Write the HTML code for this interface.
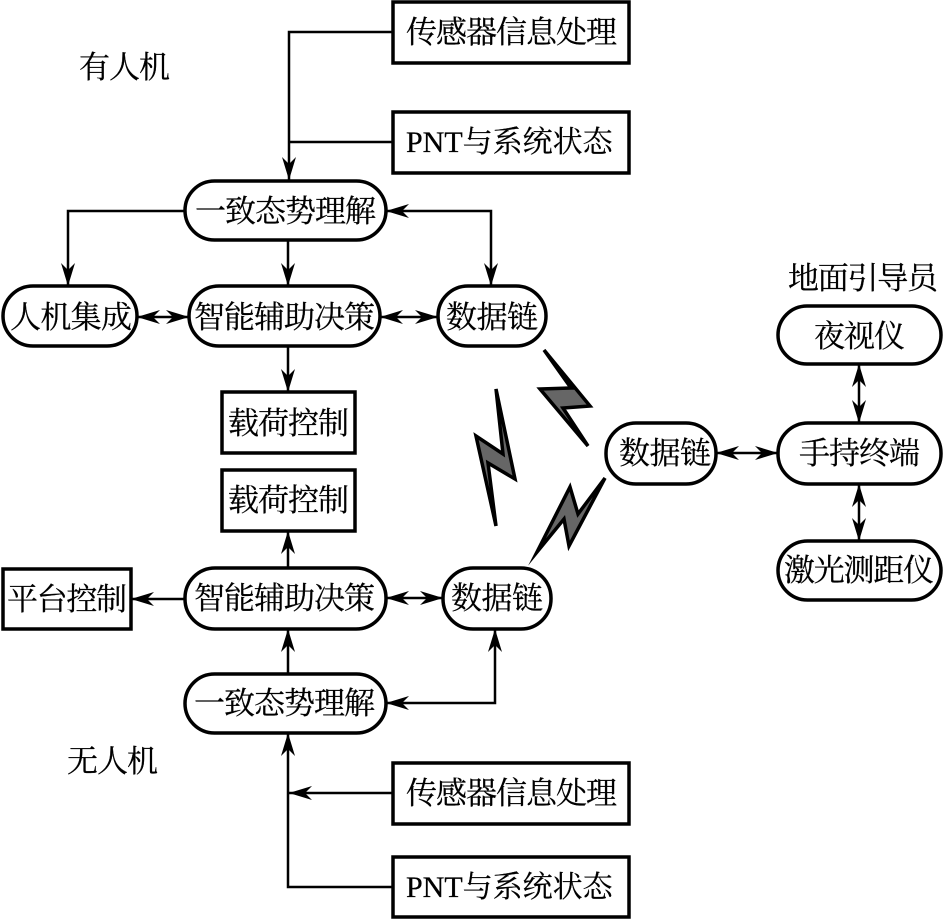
<!DOCTYPE html>
<html><head><meta charset="utf-8"><style>
html,body{margin:0;padding:0;background:#fff;width:943px;height:920px;overflow:hidden}
svg{display:block}
text{font-family:"Liberation Serif","Noto Serif CJK SC",serif;font-size:31px;fill:#000;stroke:#000;stroke-width:.25}
.b{fill:#fff;stroke:#000;stroke-width:3.5}
.l{fill:none;stroke:#000;stroke-width:2.5}
.z{fill:#666;stroke:#000;stroke-width:3.5;stroke-linejoin:miter;stroke-miterlimit:12}
</style></head><body>
<svg width="943" height="920" viewBox="0 0 943 920" xmlns="http://www.w3.org/2000/svg">
<defs>
<path id="a" d="M0 0L-23 -7L-16 0L-23 7Z" fill="#000"/>
</defs>
<!-- connectors -->
<path class="l" d="M393 32H289V180M393 142H289"/>
<path class="l" d="M185 211H68V286M288 240V286M386 211H491V286M288 346V392M137 317H189M380 317H438M859 364V423M716 453H778M859 484V541M288 531V568M131 599H185M386 598H443M288 674V629M386 703H495V629M393 887H288V733M393 793H289"/>
<use href="#a" transform="translate(289,180) rotate(90)"/>
<use href="#a" transform="translate(68,286) rotate(90)"/>
<use href="#a" transform="translate(288,286) rotate(90)"/>
<use href="#a" transform="translate(491,286) rotate(90)"/>
<use href="#a" transform="translate(386,211) rotate(180)"/>
<use href="#a" transform="translate(288,392) rotate(90)"/>
<use href="#a" transform="translate(137,317) rotate(180)"/>
<use href="#a" transform="translate(189,317)"/>
<use href="#a" transform="translate(380,317) rotate(180)"/>
<use href="#a" transform="translate(438,317)"/>
<use href="#a" transform="translate(859,364) rotate(-90)"/>
<use href="#a" transform="translate(859,423) rotate(90)"/>
<use href="#a" transform="translate(716,453) rotate(180)"/>
<use href="#a" transform="translate(778,453)"/>
<use href="#a" transform="translate(859,484) rotate(-90)"/>
<use href="#a" transform="translate(859,541) rotate(90)"/>
<use href="#a" transform="translate(288,531) rotate(-90)"/>
<use href="#a" transform="translate(131,599) rotate(180)"/>
<use href="#a" transform="translate(386,598) rotate(180)"/>
<use href="#a" transform="translate(443,598)"/>
<use href="#a" transform="translate(288,629) rotate(-90)"/>
<use href="#a" transform="translate(495,629) rotate(-90)"/>
<use href="#a" transform="translate(386,703) rotate(180)"/>
<use href="#a" transform="translate(288,733) rotate(-90)"/>
<use href="#a" transform="translate(289,793) rotate(180)"/>
<!-- lightning -->
<path class="z" d="M544 350L590 406L563 408L588 446L540 389L571 388Z"/>
<path class="z" d="M496 389L515 479L488 463L496 526L476 436L503 454Z"/>
<path class="z" d="M605 478L569 546L564 519L537 552L570 487L578 514Z"/>
<!-- boxes -->
<rect class="b" x="393" y="2" width="236" height="61"/>
<rect class="b" x="393" y="112" width="236" height="61"/>
<rect class="b" x="185" y="181" width="201" height="59" rx="29.5"/>
<rect class="b" x="3" y="286" width="134" height="60" rx="30"/>
<rect class="b" x="189" y="286" width="191" height="60" rx="30"/>
<rect class="b" x="438" y="286" width="108" height="60" rx="30"/>
<rect class="b" x="222" y="392" width="133" height="61"/>
<rect class="b" x="222" y="470" width="133" height="61"/>
<rect class="b" x="3" y="569" width="128" height="60"/>
<rect class="b" x="185" y="568" width="201" height="61" rx="30"/>
<rect class="b" x="443" y="568" width="108" height="61" rx="30"/>
<rect class="b" x="185" y="674" width="201" height="59" rx="29.5"/>
<rect class="b" x="393" y="763" width="236" height="61"/>
<rect class="b" x="393" y="857" width="236" height="60"/>
<rect class="b" x="606" y="423" width="110" height="61" rx="30"/>
<rect class="b" x="778" y="423" width="163" height="61" rx="30"/>
<rect class="b" x="778" y="306" width="163" height="58" rx="29"/>
<rect class="b" x="778" y="541" width="163" height="59" rx="29.5"/>
<!-- labels -->
<text x="406" y="43" textLength="211" lengthAdjust="spacing">传感器信息处理</text>
<text x="406" y="152" style="font-size:30px">PNT与系统状态</text>
<text x="195" y="222" textLength="181" lengthAdjust="spacing">一致态势理解</text>
<text x="10" y="328" textLength="122" lengthAdjust="spacing">人机集成</text>
<text x="194" y="328" textLength="181" lengthAdjust="spacing">智能辅助决策</text>
<text x="446" y="328" textLength="92" lengthAdjust="spacing">数据链</text>
<text x="228" y="434" textLength="121" lengthAdjust="spacing">载荷控制</text>
<text x="228" y="511" textLength="121" lengthAdjust="spacing">载荷控制</text>
<text x="7" y="610" textLength="120" lengthAdjust="spacing">平台控制</text>
<text x="194" y="609" textLength="181" lengthAdjust="spacing">智能辅助决策</text>
<text x="451" y="609" textLength="92" lengthAdjust="spacing">数据链</text>
<text x="194" y="714" textLength="181" lengthAdjust="spacing">一致态势理解</text>
<text x="406" y="804" textLength="211" lengthAdjust="spacing">传感器信息处理</text>
<text x="406" y="897" style="font-size:30px">PNT与系统状态</text>
<text x="619" y="464" textLength="92" lengthAdjust="spacing">数据链</text>
<text x="799" y="464" textLength="121" lengthAdjust="spacing">手持终端</text>
<text x="814" y="347" textLength="91" lengthAdjust="spacing">夜视仪</text>
<text x="784" y="581" textLength="150" lengthAdjust="spacing">激光测距仪</text>
<text x="79" y="78" textLength="91" lengthAdjust="spacing">有人机</text>
<text x="67" y="772" textLength="91" lengthAdjust="spacing">无人机</text>
<text x="788" y="289" textLength="150" lengthAdjust="spacing">地面引导员</text>
</svg>
</body></html>
